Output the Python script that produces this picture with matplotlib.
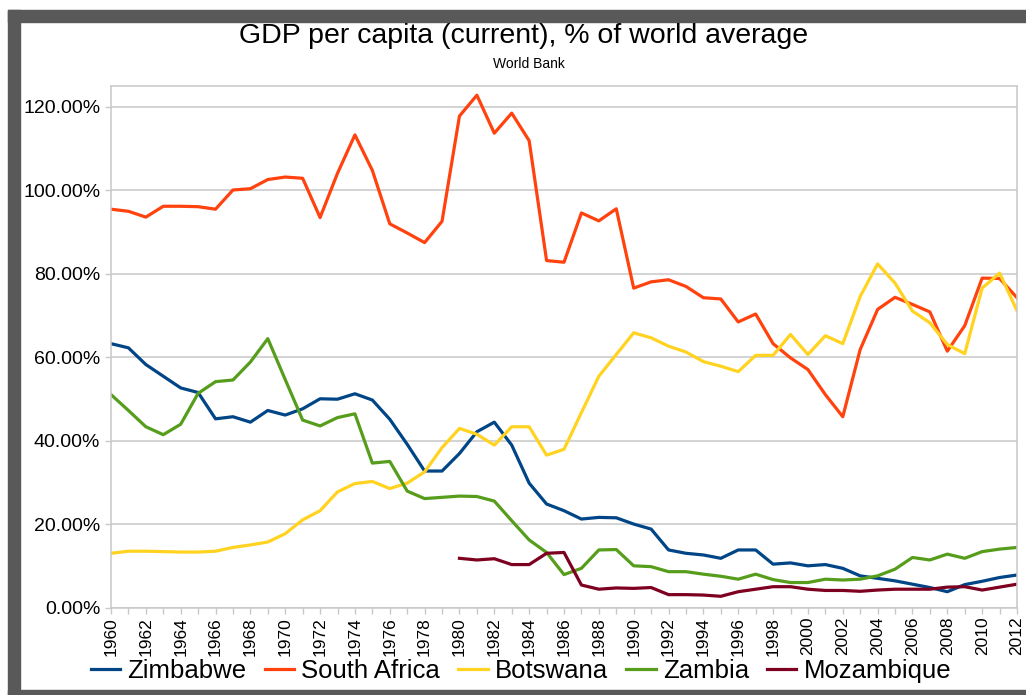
import matplotlib
matplotlib.use("Agg")
from matplotlib import pyplot as plt
from matplotlib.patches import Rectangle
from matplotlib.ticker import MultipleLocator, FuncFormatter

plt.rcParams['font.family'] = ['Liberation Sans', 'DejaVu Sans']

years = list(range(1960, 2013))
moz_years = list(range(1980, 2013))

# GDP per capita, % of world average
zimbabwe = [63.3, 62.3, 58.3, 55.5, 52.7, 51.6, 45.3, 45.8, 44.5, 47.3,
            46.2, 47.7, 50.1, 50.0, 51.3, 49.8, 45.2, 39.2, 32.8, 32.8,
            37.0, 42.2, 44.5, 39.0, 29.9, 24.9, 23.3, 21.3, 21.7, 21.6,
            20.1, 18.9, 13.9, 13.1, 12.7, 11.9, 13.9, 13.9, 10.5, 10.8,
            10.1, 10.4, 9.5, 7.7, 7.1, 6.5, 5.7, 4.9, 3.9, 5.6,
            6.4, 7.3, 7.9]
south_africa = [95.5, 95.0, 93.6, 96.2, 96.2, 96.1, 95.5, 100.1, 100.4, 102.6,
                103.2, 102.9, 93.5, 104.1, 113.3, 104.8, 92.0, 89.8, 87.5, 92.6,
                117.8, 122.8, 113.7, 118.5, 111.9, 83.2, 82.8, 94.6, 92.7, 95.6,
                76.6, 78.1, 78.6, 77.0, 74.3, 74.0, 68.5, 70.4, 63.3, 59.9,
                57.1, 51.1, 45.8, 61.9, 71.5, 74.4, 72.7, 70.9, 61.5, 67.6,
                79.0, 78.9, 74.3]
botswana = [13.1, 13.6, 13.6, 13.5, 13.4, 13.4, 13.6, 14.5, 15.1, 15.8,
            17.8, 21.1, 23.3, 27.8, 29.8, 30.3, 28.6, 29.9, 32.6, 38.4,
            43.0, 41.6, 39.0, 43.4, 43.4, 36.6, 38.0, 46.8, 55.5, 60.7,
            65.9, 64.7, 62.7, 61.3, 59.0, 57.9, 56.6, 60.5, 60.5, 65.5,
            60.7, 65.2, 63.3, 74.6, 82.4, 77.8, 71.1, 68.3, 63.1, 60.9,
            76.6, 80.2, 71.2]
zambia = [51.1, 47.3, 43.4, 41.5, 44.0, 51.4, 54.2, 54.6, 58.9, 64.5,
          54.7, 45.0, 43.6, 45.6, 46.5, 34.7, 35.1, 28.0, 26.2, 26.5,
          26.8, 26.7, 25.6, 20.9, 16.3, 13.3, 8.0, 9.5, 13.9, 14.0,
          10.1, 9.9, 8.7, 8.7, 8.1, 7.6, 6.9, 8.1, 6.8, 6.1,
          6.1, 6.9, 6.7, 6.9, 7.7, 9.3, 12.1, 11.5, 12.9, 11.9,
          13.5, 14.1, 14.5]
mozambique = [11.9, 11.5, 11.8, 10.4, 10.4, 13.1, 13.3, 5.5, 4.5, 4.8,
              4.7, 4.9, 3.2, 3.2, 3.1, 2.8, 3.9, 4.5, 5.1, 5.1,
              4.5, 4.2, 4.2, 4.0, 4.3, 4.5, 4.5, 4.5, 5.0, 5.1,
              4.3, 5.0, 5.7]

W, H = 1026, 695
fig = plt.figure(figsize=(W / 100, H / 100), dpi=100)

# dark screenshot frame (left, top, bottom)
frame = '#595959'
for (x0, y0, w, h) in [(8, 10, 12, 685), (8, 10, W - 8, 12), (8, 690, W - 8, 5)]:
    fig.patches.append(Rectangle((x0 / W, 1 - (y0 + h) / H), w / W, h / H,
                                 transform=fig.transFigure, color=frame, zorder=0))

ax = fig.add_axes([111 / W, 1 - 608 / H, (1017 - 111) / W, (608 - 86) / H])

lw = 2.3
ax.plot(years, zimbabwe, color='#004586', lw=lw, label='Zimbabwe')
ax.plot(years, south_africa, color='#ff420e', lw=lw, label='South Africa')
ax.plot(years, botswana, color='#ffd320', lw=lw, label='Botswana')
ax.plot(years, zambia, color='#579d1c', lw=lw, label='Zambia')
ax.plot(moz_years, mozambique, color='#7e0021', lw=lw, label='Mozambique')

ax.set_xlim(1960, 2012)
ax.set_ylim(0, 125)
ax.set_yticks(range(0, 121, 20))
ax.yaxis.set_major_formatter(FuncFormatter(lambda v, p: f"{v:.2f}%"))
ax.xaxis.set_major_locator(MultipleLocator(2))
ax.xaxis.set_minor_locator(MultipleLocator(1))
ax.xaxis.set_major_formatter(FuncFormatter(lambda v, p: f"{int(v)}"))

grid_col = '#c8c8c8'
ax.grid(axis='y', color=grid_col, lw=1.1)
ax.set_axisbelow(True)
for s in ax.spines.values():
    s.set_color(grid_col)
    s.set_linewidth(1.1)

ax.tick_params(axis='y', length=4.3, width=1, color=grid_col, labelsize=14, pad=3.5)
ax.tick_params(axis='x', which='both', length=4.3, width=1, color=grid_col,
               labelsize=12.5, pad=2, labelrotation=90)

fig.text(524 / W, 1 - 43 / H, 'GDP per capita (current), % of world average',
         ha='center', va='baseline', fontsize=20.5)
fig.text(529 / W, 1 - 68 / H, 'World Bank', ha='center', va='baseline', fontsize=10)

fig.legend(loc='center', bbox_to_anchor=(521 / W, 1 - 671 / H), ncol=5,
           frameon=False, fontsize=18.5, handlelength=1.15, handletextpad=0.28,
           columnspacing=0.7, borderpad=0, borderaxespad=0)

fig.savefig('out.png', dpi=100, facecolor='white')
